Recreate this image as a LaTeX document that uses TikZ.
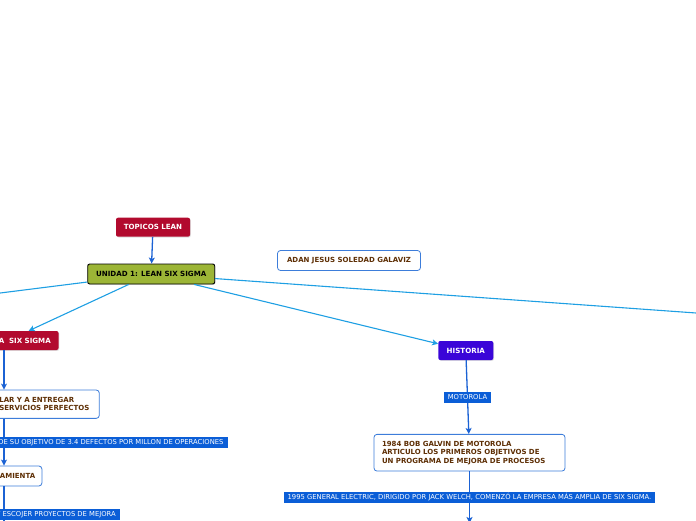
\documentclass[tikz,border=0pt]{standalone}
\usepackage{fontspec}
\setmainfont{DejaVu Sans}
\usetikzlibrary{arrows.meta,shadows}
\definecolor{mapred}{HTML}{B20A2E}
\definecolor{mapolive}{HTML}{9CB536}
\definecolor{mappurple}{HTML}{3A05D8}
\definecolor{maplabel}{HTML}{0B5ED7}
\definecolor{maplink}{HTML}{1E9FE3}
\definecolor{mapdown}{HTML}{1B62D4}
\definecolor{mapframe}{HTML}{3D7DDA}
\definecolor{mapbrown}{HTML}{5E2F05}
\tikzset{
  % coloured topic boxes
  map topic/.style={
    rounded corners=2pt, inner sep=0pt, minimum height=19pt,
    text=white, font=\fontsize{7.1}{8.4}\selectfont\bfseries,
    drop shadow={shadow xshift=0.8pt,shadow yshift=-0.8pt,opacity=0.25},
  },
  % white boxes with brown text
  map note/.style={
    draw=mapframe, line width=0.8pt, fill=white, rounded corners=3pt,
    text=mapbrown, font=\fontsize{7}{8.4}\selectfont\bfseries,
    inner xsep=8pt, inner ysep=0pt, minimum height=20pt,
  },
  % blue labels sitting on the vertical links
  map label/.style={
    fill=maplabel, text=white, font=\fontsize{6.8}{7.5}\selectfont,
    inner xsep=4pt, inner ysep=0pt, minimum height=11pt,
  },
  % links out of the central topic
  map link/.style={
    draw=maplink, line width=1.1pt,
  },
  % links running down a branch
  map down/.style={
    draw=mapdown, line width=1.3pt,
  },
  map tip/.style={-{Stealth[length=6pt,width=6pt,inset=1.5pt]}},
}

\begin{document}
\begin{tikzpicture}[x=1pt,y=-1pt]
  \useasboundingbox (0,0) rectangle (696,520);

  % ---- centre ---------------------------------------------------------------
  \node[map topic,fill=mapred,minimum width=74pt] (topicos) at (153,227.2)
    {TOPICOS LEAN};
  \node[map topic,fill=mapolive,draw=black,line width=0.9pt,text=black,
        minimum width=127pt,minimum height=20pt] (unidad) at (151.2,274)
    {UNIDAD 1: LEAN SIX SIGMA};
  \node[map note,minimum width=143pt] (autor) at (349,260.5)
    {ADAN JESUS SOLEDAD GALAVIZ};

  \draw[map down,map tip] (topicos) -- (unidad);

  \coordinate (offleft)  at (-30,296.8);
  \coordinate (offright) at (720,314.7);
  \draw[map link] (unidad) -- (offleft);
  \draw[map link] (unidad) -- (offright);

  % ---- left branch ----------------------------------------------------------
  \coordinate (col) at (4,0);
  \node[map topic,fill=mapred,anchor=east,text width=86pt,align=right,
        inner xsep=7.7pt] (six) at (58.7,340.5) {A~ SIX SIGMA};
  \node[map note,anchor=east,text width=92pt,align=left,minimum height=28.3pt]
    (entrega) at (99.7,404.2) {LAR Y A ENTREGAR\\SERVICIOS PERFECTOS};
  \node[map note,anchor=east,text width=34pt,align=left] (herramienta)
    at (42.3,476) {AMIENTA};
  \coordinate (leftend) at (4,530);

  \draw[map link,map tip] (unidad) -- (six);
  \draw[map down,map tip] (six.south -| col) -- (entrega.north -| col);
  \draw[map down,map tip] (entrega.south -| col) -- (herramienta.north -| col);
  \draw[map down] (herramienta.south -| col) -- (leftend);

  \node[map label,anchor=east] (objetivo) at (227.7,442.2)
    {DE SU OBJETIVO DE 3.4 DEFECTOS POR MILLON DE OPERACIONES};
  \node[map label,anchor=east] (proyectos) at (120,514.5)
    {Y ESCOJER PROYECTOS DE MEJORA};

  % ---- right branch ---------------------------------------------------------
  \node[map topic,fill=mappurple,minimum width=55pt] (historia) at (465.8,350.5)
    {HISTORIA};
  \node[map note,text width=175pt,align=left,minimum height=36.7pt] (galvin)
    at (469.5,452.7)
    {1984 BOB GALVIN DE MOTOROLA\\ARTICULO LOS PRIMEROS OBJETIVOS DE\\UN PROGRAMA DE MEJORA DE PROCESOS};
  \coordinate (siguiente) at (469.5,523);

  \draw[map link,map tip] (unidad) -- (historia);
  \draw[map down,map tip] (historia) -- node[map label] {MOTOROLA} (galvin);
  \draw[map down,map tip] (galvin) -- node[map label]
    {1995 GENERAL ELECTRIC, DIRIGIDO POR JACK WELCH, COMENZÓ LA EMPRESA MÁS AMPLIA DE SIX SIGMA.}
    (siguiente);

\end{tikzpicture}
\end{document}
